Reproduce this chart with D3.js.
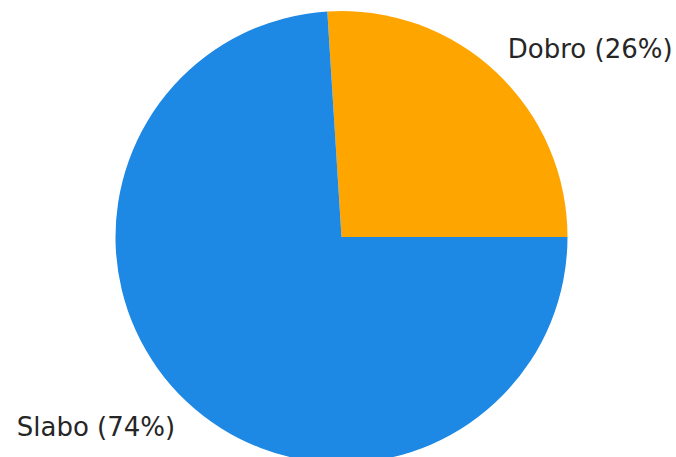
<!DOCTYPE html>
<html>
<head>
<meta charset="utf-8">
<script src="https://cdn.jsdelivr.net/npm/d3@7"></script>
<style>
  html, body { margin: 0; padding: 0; background: #ffffff; }
  svg { display: block; }
</style>
</head>
<body>
<svg id="chart" width="676" height="457"></svg>
<script>
const categories = ["Dobro", "Slabo"];
const values = [26, 74];
const colors = ["#FFA500", "#1E88E5"];

const width = 676, height = 457;
const cx = 341.5, cy = 237, r = 226;
const labelRx = r * 1.075, labelRy = r * 1.147;

const svg = d3.select("#chart");
const g = svg.append("g").attr("transform", `translate(${cx},${cy})`);

const pie = d3.pie()
  .value(d => d.value)
  .sort(null)
  .startAngle(Math.PI / 2)
  .endAngle(Math.PI / 2 - 2 * Math.PI);

const data = categories.map((c, i) => ({ label: c, value: values[i], color: colors[i] }));
const arcs = pie(data);

const arc = d3.arc().innerRadius(0).outerRadius(r);

g.selectAll("path.slice")
  .data(arcs)
  .enter()
  .append("path")
  .attr("class", "slice")
  .attr("d", arc)
  .attr("fill", d => d.data.color);

const total = d3.sum(values);
const mid = d => (d.startAngle + d.endAngle) / 2;
g.selectAll("text.lbl")
  .data(arcs)
  .enter()
  .append("text")
  .attr("class", "lbl")
  .attr("x", d => labelRx * Math.sin(mid(d)))
  .attr("y", d => -labelRy * Math.cos(mid(d)))
  .attr("dy", "0.38em")
  .attr("text-anchor", d => Math.sin(mid(d)) >= 0 ? "start" : "end")
  .attr("font-family", "DejaVu Sans, sans-serif")
  .attr("font-size", 26)
  .attr("fill", "#262626")
  .text(d => `${d.data.label} (${Math.round(d.data.value / total * 100)}%)`);
</script>
</body>
</html>
